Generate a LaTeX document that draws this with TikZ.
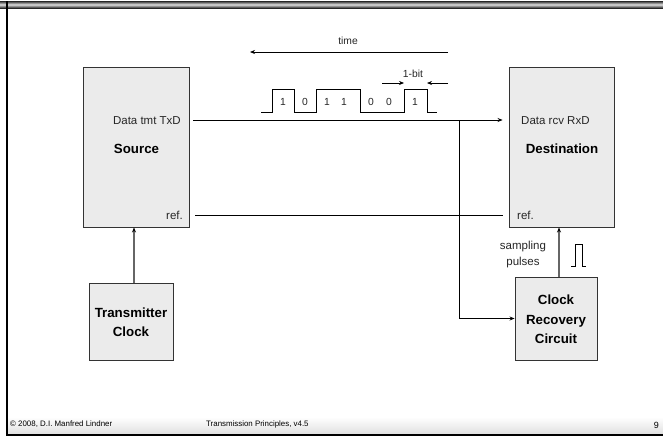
\documentclass[tikz,border=0pt]{standalone}
\usepackage{fontspec}
\setmainfont{Liberation Sans}
\usetikzlibrary{arrows.meta,calc}
\definecolor{boxfill}{HTML}{EBEBEB}
\definecolor{boxline}{HTML}{333333}
\definecolor{clk}{HTML}{666666}
\begin{document}
\begin{tikzpicture}[x=1pt,y=-1pt,
  box/.style={draw=boxline, fill=boxfill, line width=0.9pt, inner sep=0pt},
  lbl/.style={font=\fontsize{11.5}{13}\selectfont, inner sep=0pt, text=black!85},
  big/.style={font=\fontsize{13.3}{19.5}\selectfont\bfseries, align=center, inner sep=0pt},
  small/.style={font=\fontsize{10.3}{12}\selectfont, inner sep=0pt, text=black!85},
  foot/.style={font=\fontsize{7.9}{9}\selectfont, inner sep=0pt},
  conn/.style={line width=0.7pt, -{Stealth[length=5pt,width=4pt]}},
  gconn/.style={line width=1.1pt, draw=clk, -{Stealth[length=5pt,width=4pt,black]}},
  wave/.style={line width=0.7pt},
  ]
\useasboundingbox (0,0) rectangle (663,437);
% frame
\shade[top color=black!85, bottom color=black!85, middle color=black!12] (0,1) rectangle (663,8);
\shade[top color=white, bottom color=black!12] (8,417) rectangle (663,434);
\draw[line width=2pt] (7,1) -- (7,435) -- (663,435);

% boxes
\node[box, minimum width=106pt, minimum height=160pt] (src) at (136,147) {};
\node[box, minimum width=105pt, minimum height=160pt] (dst) at (561.5,147) {};
\node[box, minimum width=84pt, minimum height=77pt] (tc) at (131,321.5) {};
\node[box, minimum width=82pt, minimum height=83pt] (crc) at (556,318.5) {};

% texts in boxes
\node[lbl, anchor=east] (txd) at (181,121) {Data tmt TxD};
\node[big] (srct) at (136.5,149) {Source};
\node[lbl, anchor=east] (sref) at (183,215) {ref.};
\node[lbl, anchor=west] (rxd) at (521,121) {Data rcv RxD};
\node[big] (dstt) at (562,149) {Destination};
\node[lbl, anchor=west] (dref) at (517,215) {ref.};
\node[big] (tct) at (131,322) {Transmitter\\Clock};
\node[big] (crct) at (556,319.5) {Clock\\Recovery\\Circuit};

% data and ref lines
\coordinate (dl) at (0,120);
\coordinate (rl) at (0,215);
\coordinate (br) at (459,120);
\draw[conn, shorten <=4pt, shorten >=6pt] (src.east |- dl) -- (dst.west |- dl);
\draw[line width=0.7pt, shorten <=6pt, shorten >=6pt] (src.east |- rl) -- (dst.west |- rl);
\draw[conn] (br) |- (crc.west);

% clock arrows
\draw[gconn] (tc.north -| 134,0) -- (134,0 |- src.south);
\draw[gconn] (559,0 |- crc.north) -- (559,0 |- dst.south);

% sampling pulses
\node[lbl, align=center, font=\fontsize{11.5}{16}\selectfont] (sp) at (523,255) {sampling\\pulses};
\draw[wave] (571,266) -- (575,266) -- (575,244) -- (582,244) -- (582,266) -- (586,266);

% time arrow
\node[small] (time) at (348,41) {time};
\coordinate (ta) at (448,52);
\coordinate (tb) at (250,52);
\draw[conn] (ta) -- (tb);

% waveform
\draw[wave] (261,112) -- (272,112) -- (272,89) -- (294,89) -- (294,112) -- (316,112) -- (316,89)
  -- (360,89) -- (360,112) -- (404,112) -- (404,89) -- (427,89) -- (427,112) -- (437,112);
\foreach \x/\b [count=\i] in {283/1,305/0,327/1,344/1,371/0,389/0,415/1}
  \node[small] (bit\i) at (\x,102) {\b};

% 1-bit
\node[small] (onebit) at (413,74) {1-bit};
\coordinate (oa) at (382,83);
\coordinate (ob) at (404,83);
\coordinate (oc) at (448,83);
\coordinate (od) at (427,83);
\draw[conn] (oa) -- (ob);
\draw[conn] (oc) -- (od);

% footer
\node[foot, anchor=west] (f1) at (10,424) {© 2008, D.I. Manfred Lindner};
\node[foot, anchor=west] (f2) at (206,424) {Transmission Principles, v4.5};
\node[foot, anchor=east, font=\fontsize{9}{10}\selectfont] (f3) at (659,425) {9};
\end{tikzpicture}
\end{document}
